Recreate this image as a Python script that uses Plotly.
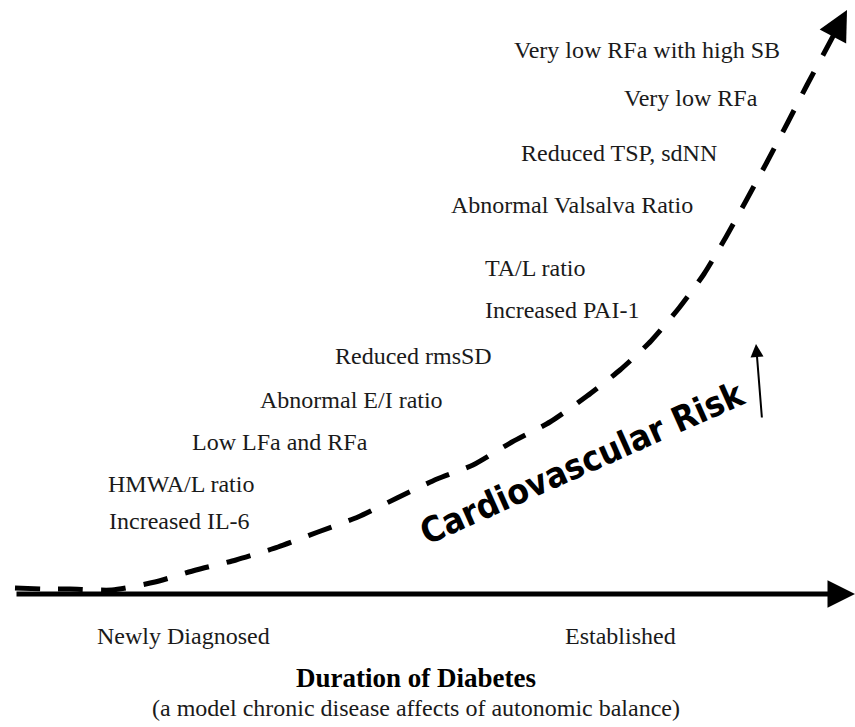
import plotly.graph_objects as go

# dashed risk curve (x = duration, y = risk, in page px, y up)
duration = [15, 45, 70, 112, 155, 196, 236, 278, 318, 358, 397, 437, 473,
            512, 550, 587, 620, 651, 679, 704, 726, 747, 767, 788, 807, 822]
risk = [139, 138, 138, 137, 145, 157, 167, 180, 195, 210, 229, 248, 262,
        285, 305, 331, 357, 386, 419, 453, 490, 528, 565, 605, 642, 670]

# markers listed along the curve
markers = [
    "Very low RFa with high SB",
    "Very low RFa",
    "Reduced TSP, sdNN",
    "Abnormal Valsalva Ratio",
    "TA/L ratio",
    "Increased PAI-1",
    "Reduced rmsSD",
    "Abnormal E/I ratio",
    "Low LFa and RFa",
    "HMWA/L ratio",
    "Increased IL-6",
]
marker_x = [512, 622, 519, 449, 483, 483, 333, 258, 190, 106, 107]
marker_y = [677, 629, 574, 522, 459, 417, 371, 327, 285, 243, 206]

stages = ["Newly Diagnosed", "Established"]
stage_x = [183, 620]

SERIF = "Liberation Serif, Times New Roman, serif"
W, H = 855, 727
BASE_Y = 133

fig = go.Figure()

fig.add_trace(go.Scatter(
    x=duration, y=risk,
    mode="lines",
    line=dict(color="black", width=5, dash="25px,18px", shape="spline", smoothing=0.6),
    showlegend=False,
    hoverinfo="skip",
))

# arrow head at the end of the curve
fig.add_annotation(
    x=847, y=717, ax=duration[-1], ay=risk[-1],
    xref="x", yref="y", axref="x", ayref="y",
    text="", showarrow=True, arrowhead=2, arrowsize=1.2, arrowwidth=5, arrowcolor="black",
)

# time axis
fig.add_annotation(
    x=W, y=BASE_Y, ax=15, ay=BASE_Y,
    xref="x", yref="y", axref="x", ayref="y",
    text="", showarrow=True, arrowhead=2, arrowsize=1.1, arrowwidth=5, arrowcolor="black",
)

for txt, x, y in zip(markers, marker_x, marker_y):
    fig.add_annotation(x=x, y=y, text=txt, showarrow=False, xanchor="left", yanchor="middle",
                       font=dict(family=SERIF, size=24, color="#1a1a1a"))

for txt, x in zip(stages, stage_x):
    fig.add_annotation(x=x, y=91, text=txt, showarrow=False, xanchor="center", yanchor="middle",
                       font=dict(family=SERIF, size=24, color="#1a1a1a"))

fig.add_annotation(x=416, y=49, text="<b>Duration of Diabetes</b>", showarrow=False,
                   xanchor="center", yanchor="middle", font=dict(family=SERIF, size=27, color="black"))
fig.add_annotation(x=416, y=19, text="(a model chronic disease affects of autonomic balance)",
                   showarrow=False, xanchor="center", yanchor="middle",
                   font=dict(family=SERIF, size=24, color="#1a1a1a"))

# the big slanted label
fig.add_annotation(x=582, y=264, text="<b>Cardiovascular Risk</b>", showarrow=False,
                   textangle=-24, xanchor="center", yanchor="middle",
                   font=dict(family="Liberation Sans Narrow, DejaVu Sans Condensed, Arial Narrow, sans-serif",
                             size=35, color="black"))
fig.add_annotation(
    x=756, y=383, ax=762, ay=308,
    xref="x", yref="y", axref="x", ayref="y",
    text="", showarrow=True, arrowhead=2, arrowsize=1.3, arrowwidth=2, arrowcolor="black",
)

fig.update_layout(
    width=W, height=H, autosize=False,
    margin=dict(l=0, r=0, t=0, b=0),
    paper_bgcolor="white", plot_bgcolor="white",
    xaxis=dict(range=[0, W], visible=False, fixedrange=True),
    yaxis=dict(range=[0, H], visible=False, fixedrange=True),
    showlegend=False,
)

fig.write_html("out.html", config={"displayModeBar": False},
               post_script="document.body.style.margin='0';")
